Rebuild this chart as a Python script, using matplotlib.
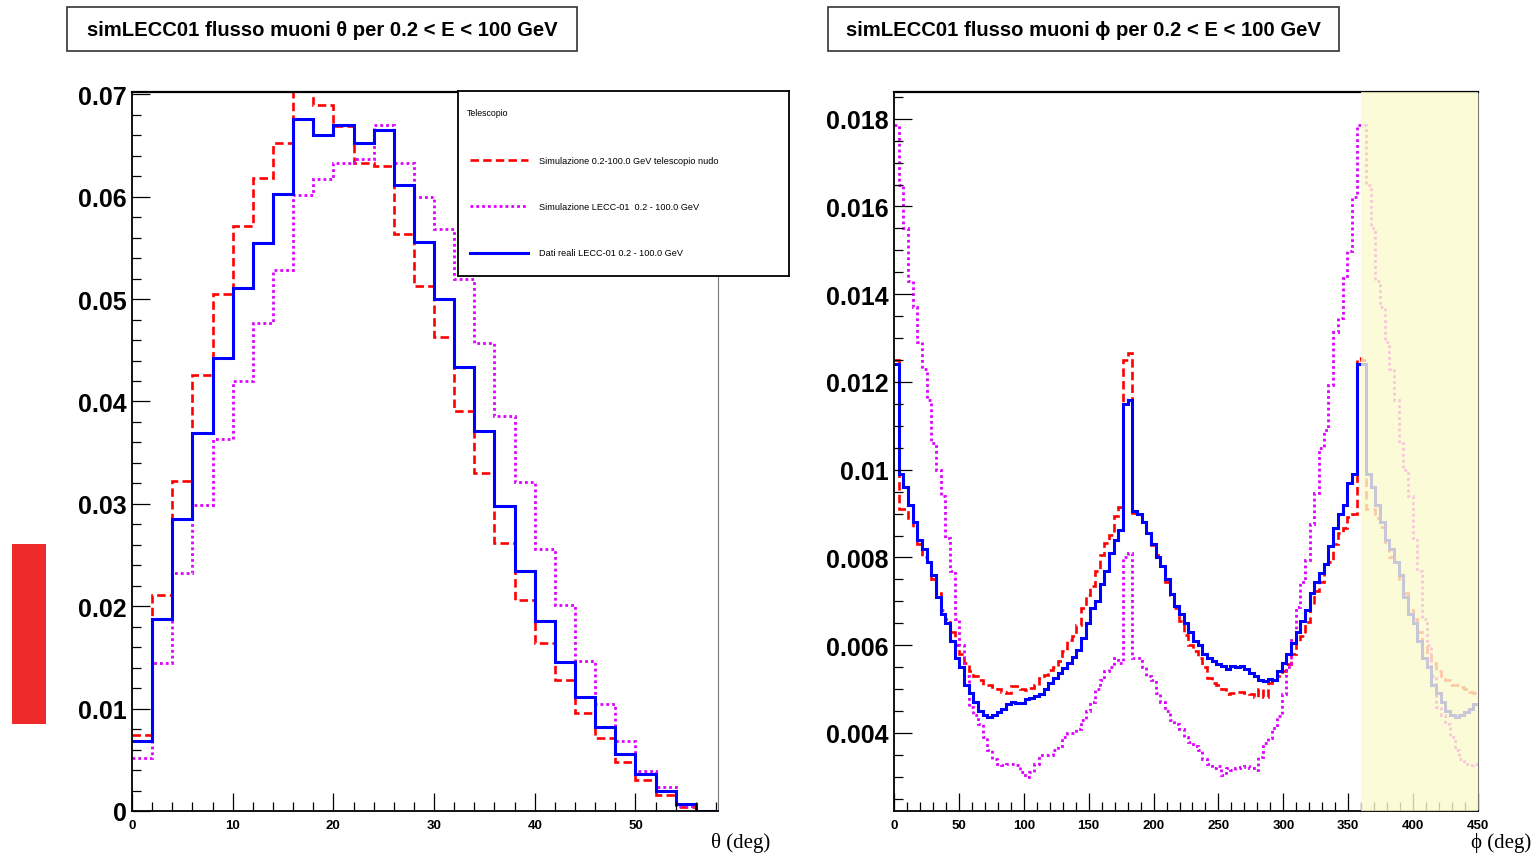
import numpy as np
import matplotlib
matplotlib.use("Agg")
import matplotlib.pyplot as plt
from matplotlib.patches import Rectangle
from matplotlib.ticker import MultipleLocator

plt.rcParams['font.family'] = ['Liberation Sans', 'DejaVu Sans']

# --- theta histogram (2 deg bins, 0-58 deg) ---
theta_edges = np.arange(0, 60, 2)
theta_blue = [0.0068, 0.0188, 0.0285, 0.0369, 0.0442, 0.0511, 0.0555, 0.0603, 0.0676, 0.0660,
              0.0670, 0.0652, 0.0665, 0.0611, 0.0556, 0.0500, 0.0434, 0.0371, 0.0298, 0.0234,
              0.0186, 0.0146, 0.0111, 0.0082, 0.0056, 0.0036, 0.0020, 0.0007, 0.0]
theta_red = [0.0074, 0.0211, 0.0322, 0.0426, 0.0505, 0.0571, 0.0618, 0.0652, 0.0712, 0.0690,
             0.0669, 0.0633, 0.0630, 0.0564, 0.0513, 0.0463, 0.0391, 0.0330, 0.0262, 0.0206,
             0.0164, 0.0128, 0.0096, 0.0071, 0.0048, 0.0030, 0.0016, 0.0004, 0.0]
theta_mag = [0.0052, 0.0145, 0.0232, 0.0299, 0.0363, 0.0420, 0.0477, 0.0528, 0.0602, 0.0617,
             0.0633, 0.0637, 0.0670, 0.0633, 0.0600, 0.0568, 0.0520, 0.0457, 0.0386, 0.0321,
             0.0256, 0.0201, 0.0147, 0.0105, 0.0068, 0.0039, 0.0023, 0.0005, 0.0]
theta_yticks = [0, 0.01, 0.02, 0.03, 0.04, 0.05, 0.06, 0.07]
theta_ylabels = ['0', '0.01', '0.02', '0.03', '0.04', '0.05', '0.06', '0.07']

# --- phi histogram (100 bins of 3.6 deg over 0-360, drawn again up to 450) ---
phi_blue = [0.0124, 0.0099, 0.0096, 0.0092, 0.0088, 0.0084, 0.0082, 0.0079, 0.0076, 0.0071,
            0.0067, 0.0065, 0.0061, 0.0057, 0.0055, 0.0051, 0.0049, 0.0047, 0.0045, 0.0044,
            0.00437, 0.0044, 0.00447, 0.00455, 0.00465, 0.0047, 0.00468, 0.00468, 0.00478, 0.00479,
            0.00484, 0.00488, 0.0050, 0.00513, 0.00525, 0.00536, 0.00547, 0.00559, 0.00574, 0.0059,
            0.00616, 0.0065, 0.00685, 0.0070, 0.0074, 0.0077, 0.0081, 0.0084, 0.00863, 0.0115,
            0.0116, 0.00907, 0.00899, 0.0088, 0.00855, 0.0083, 0.0080, 0.0078, 0.0075, 0.00716,
            0.0069, 0.0067, 0.0065, 0.0063, 0.0061, 0.0060, 0.0058, 0.0057, 0.00563, 0.00558,
            0.00552, 0.00545, 0.00552, 0.0055, 0.00552, 0.00545, 0.00536, 0.00529, 0.00521, 0.00519,
            0.00523, 0.0052, 0.0054, 0.0056, 0.0058, 0.00606, 0.0063, 0.00655, 0.0068, 0.0072,
            0.00744, 0.00764, 0.00784, 0.00825, 0.00866, 0.0090, 0.0092, 0.0097, 0.0099, 0.0124]
phi_red = [0.0125, 0.0091, 0.0091, 0.0089, 0.0087, 0.0083, 0.0080, 0.0079, 0.0075, 0.0072,
           0.0068, 0.0066, 0.0063, 0.0060, 0.0058, 0.0056, 0.0054, 0.0053, 0.0052, 0.0051,
           0.0051, 0.00505, 0.0050, 0.00494, 0.00492, 0.00506, 0.00506, 0.0050, 0.00498, 0.00502,
           0.0051, 0.00525, 0.00532, 0.00544, 0.00551, 0.00563, 0.00586, 0.00612, 0.0062, 0.00646,
           0.00684, 0.00715, 0.00734, 0.00768, 0.00806, 0.00833, 0.00852, 0.00894, 0.00915, 0.0125,
           0.01265, 0.00901, 0.00897, 0.00882, 0.00856, 0.00829, 0.00806, 0.0078, 0.00745, 0.00715,
           0.00684, 0.00654, 0.00624, 0.0060, 0.00586, 0.0057, 0.0055, 0.00525, 0.00514, 0.00509,
           0.0050, 0.00489, 0.0049, 0.00494, 0.00494, 0.0049, 0.00489, 0.00483, 0.00499, 0.00483,
           0.00514, 0.00519, 0.00529, 0.0054, 0.00558, 0.0058, 0.00609, 0.0062, 0.00652, 0.00693,
           0.00723, 0.00744, 0.00785, 0.0079, 0.00831, 0.00856, 0.00866, 0.00892, 0.0090, 0.01254]
phi_mag = [0.01785, 0.0165, 0.0155, 0.0143, 0.0137, 0.0129, 0.0123, 0.0116, 0.0106, 0.0100,
           0.0094, 0.00845, 0.0077, 0.0066, 0.0060, 0.0053, 0.0046, 0.0044, 0.0042, 0.0039,
           0.0036, 0.0034, 0.0033, 0.00327, 0.0033, 0.00328, 0.00326, 0.0031, 0.0030, 0.0031,
           0.0033, 0.0035, 0.0035, 0.0035, 0.0036, 0.0037, 0.0039, 0.0040, 0.0040, 0.0041,
           0.0043, 0.0045, 0.0047, 0.0050, 0.0052, 0.0054, 0.0055, 0.0057, 0.0056, 0.0080,
           0.0081, 0.0057, 0.0057, 0.0055, 0.0053, 0.0052, 0.0049, 0.0047, 0.0045, 0.0043,
           0.0042, 0.0041, 0.0039, 0.0038, 0.0037, 0.0036, 0.0034, 0.0033, 0.0032, 0.00325,
           0.00305, 0.0032, 0.00315, 0.0032, 0.00323, 0.00325, 0.0032, 0.00315, 0.00346, 0.00376,
           0.00389, 0.00412, 0.00438, 0.00489, 0.0055, 0.00611, 0.00688, 0.00744, 0.00795, 0.00876,
           0.00948, 0.0105, 0.01091, 0.01193, 0.01315, 0.01346, 0.01438, 0.01499, 0.01621, 0.01785]
phi_yticks = [0.004, 0.006, 0.008, 0.010, 0.012, 0.014, 0.016, 0.018]
phi_ylabels = ['0.004', '0.006', '0.008', '0.01', '0.012', '0.014', '0.016', '0.018']

phi_edges = np.arange(0, 450.01, 3.6)
def wrap(v):
    # the plot repeats phi 0-90 after 360
    return np.concatenate([v, v[:25]])

series_labels = ['Simulazione 0.2-100.0 GeV telescopio nudo',
                 'Simulazione LECC-01  0.2 - 100.0 GeV',
                 'Dati reali LECC-01 0.2 - 100.0 GeV']

RED = '#ff0000'
MAG = '#dd00ff'
BLUE = '#0000ff'
red_ls = (0, (3.2, 1.6))
mag_ls = (0, (1, 1.1))

W, H = 1535, 854
fig = plt.figure(figsize=(W / 100, H / 100), dpi=100)

def fx(x): return x / W
def fy(y): return 1 - y / H

def style_axes(ax):
    ax.tick_params(which='both', direction='in', top=False, right=False, colors='black')
    ax.tick_params(which='major', length=13, width=0.9)
    ax.tick_params(which='minor', length=6.5, width=0.9)
    ax.tick_params(axis='y', labelsize=18, pad=4)
    ax.tick_params(axis='x', labelsize=9.5, pad=6)
    for lab in ax.get_xticklabels() + ax.get_yticklabels():
        lab.set_fontweight('bold')
    ax.spines['left'].set_linewidth(1.3)
    ax.spines['bottom'].set_linewidth(1.3)
    ax.spines['top'].set_linewidth(1.6)
    ax.spines['right'].set_linewidth(0.8)
    ax.spines['right'].set_color('#777777')

# ---- left: theta ----
ax1 = fig.add_axes([fx(132), fy(812), fx(718 - 132), (812 - 93) / H])
ax1.stairs(theta_red, theta_edges, baseline=None, color=RED, lw=1.9, ls=red_ls)
ax1.stairs(theta_mag, theta_edges, baseline=None, color=MAG, lw=2.0, ls=mag_ls)
ax1.stairs(theta_blue, theta_edges, baseline=None, color=BLUE, lw=2.2)
ax1.set_xlim(0, 58.2)
ax1.set_ylim(0, 0.07023)
ax1.xaxis.set_major_locator(MultipleLocator(10))
ax1.xaxis.set_minor_locator(MultipleLocator(2))
ax1.yaxis.set_minor_locator(MultipleLocator(0.002))
ax1.set_yticks(theta_yticks, theta_ylabels)
ax1.set_xticks([0, 10, 20, 30, 40, 50])
style_axes(ax1)

# ---- right: phi ----
ax2 = fig.add_axes([fx(894), fy(812), fx(1478 - 894), (812 - 93) / H])
ax2.stairs(wrap(phi_red), phi_edges, baseline=None, color=RED, lw=1.9, ls=red_ls)
ax2.stairs(wrap(phi_mag), phi_edges, baseline=None, color=MAG, lw=2.0, ls=mag_ls)
ax2.stairs(wrap(phi_blue), phi_edges, baseline=None, color=BLUE, lw=2.2)
ax2.set_xlim(0, 450)
ax2.set_ylim(0.00222, 0.01861)
ax2.xaxis.set_major_locator(MultipleLocator(50))
ax2.xaxis.set_minor_locator(MultipleLocator(10))
ax2.yaxis.set_minor_locator(MultipleLocator(0.0005))
ax2.set_yticks(phi_yticks, phi_ylabels)
style_axes(ax2)
ax2.axvspan(360, 450, color='#fcfacd', alpha=0.8, zorder=10, lw=0)

# axis titles
fig.text(fx(770), fy(843), '\u03b8 (deg)', ha='right', va='center', fontsize=15,
         family=['Liberation Serif', 'DejaVu Serif'])
fig.text(fx(1531), fy(843), '\u03d5 (deg)', ha='right', va='center', fontsize=15,
         family=['Liberation Serif', 'DejaVu Serif'])

# title boxes
titles = ['simLECC01 flusso muoni \u03b8 per 0.2 < E < 100 GeV',
          'simLECC01 flusso muoni \u03d5 per 0.2 < E < 100 GeV']
for (x0, x1), t in zip([(67, 577), (828, 1339)], titles):
    fig.add_artist(Rectangle((fx(x0), fy(52)), fx(x1 - x0), 44 / H, transform=fig.transFigure,
                             facecolor='white', edgecolor='#333333', lw=1.2))
    fig.text(fx((x0 + x1) / 2), fy(30), t, ha='center', va='center', fontsize=14.6,
             fontweight='bold', family=['Liberation Sans', 'DejaVu Sans'])

# legend box
lg = fig.add_axes([fx(458), fy(277), fx(789 - 458), (277 - 92) / H])
lg.set_xlim(0, 331)
lg.set_ylim(185, 0)
lg.set_xticks([])
lg.set_yticks([])
for s in lg.spines.values():
    s.set_linewidth(1.3)
lg.text(9, 22, 'Telescopio', fontsize=6.3, va='center')
for yy, col, ls, lw, lab in zip([69, 115, 162], [RED, MAG, BLUE], [red_ls, mag_ls, '-'],
                                [1.9, 2.0, 2.2], series_labels):
    lg.plot([12, 70], [yy, yy], color=col, ls=ls, lw=lw)
    lg.text(81, yy, lab, fontsize=6.6, va='center')

# red marker on the left edge
fig.add_artist(Rectangle((fx(12), fy(725)), fx(34), 180 / H, transform=fig.transFigure,
                         facecolor='#ee2a2a', edgecolor='none'))

fig.savefig('out.png', dpi=100)
